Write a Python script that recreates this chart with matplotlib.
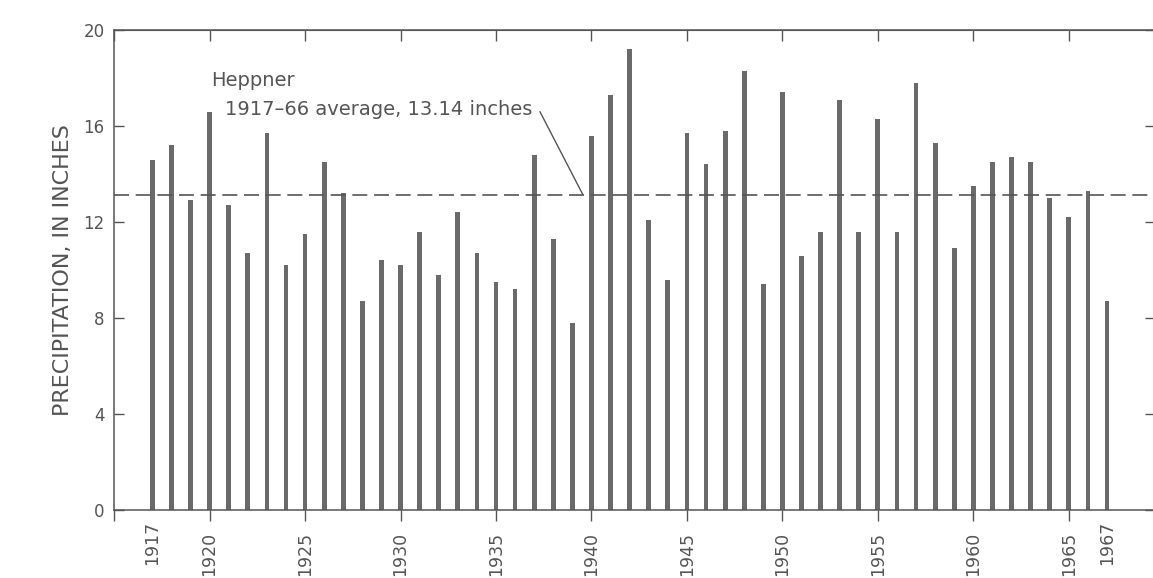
import matplotlib.pyplot as plt

years = list(range(1917, 1968))
precip = [14.6, 15.2, 12.9, 16.6, 12.7, 10.7, 15.7, 10.2, 11.5, 14.5,
          13.2, 8.7, 10.4, 10.2, 11.6, 9.8, 12.4, 10.7, 9.5, 9.2,
          14.8, 11.3, 7.8, 15.6, 17.3, 19.2, 12.1, 9.6, 15.7, 14.4,
          15.8, 18.3, 9.4, 17.4, 10.6, 11.6, 17.1, 11.6, 16.3, 11.6,
          17.8, 15.3, 10.9, 13.5, 14.5, 14.7, 14.5, 13.0, 12.2, 13.3,
          8.7]
average = 13.14
yticks = [0, 4, 8, 12, 16, 20]
major_years = list(range(1915, 1970, 5))
extra_years = [1917, 1967]

ink = "#555555"
bar_color = "#6a6a6a"

plt.rcParams['font.family'] = ['DejaVu Sans']

fig = plt.figure(figsize=(11.53, 5.78), dpi=100)
ax = fig.add_axes([0.099, 0.1176, 0.9025, 0.8304])

ax.bar(years, precip, width=0.25, color=bar_color, linewidth=0, zorder=2)
ax.axhline(average, color=ink, linestyle=(0, (9, 4)), linewidth=1.2, zorder=3)

ax.set_xlim(1915, 1969.5)
ax.set_ylim(0, 20)

# y axis: ticks inward on both sides
ax.set_yticks(yticks)
ax.tick_params(axis='y', direction='in', length=7, width=1, color=ink,
               labelsize=12, labelcolor=ink, pad=7, right=True)

# x axis: 5-year ticks pointing out below, labels rotated
ax.set_xticks(major_years)
ax.set_xticklabels(['' if y == 1915 else str(y) for y in major_years])
ax.set_xticks(extra_years, minor=True)
ax.set_xticklabels([str(y) for y in extra_years], minor=True)
ax.tick_params(axis='x', which='both', direction='out', labelrotation=90,
               labelsize=12.5, labelcolor=ink, color=ink, pad=8)
ax.tick_params(axis='x', which='major', length=8, width=1)
ax.tick_params(axis='x', which='minor', length=0)

top = ax.secondary_xaxis('top')
top.set_xticks(major_years)
top.tick_params(direction='in', length=8, width=1, color=ink, labeltop=False)
top.spines['top'].set_color(ink)

for side in ['left', 'bottom', 'top']:
    ax.spines[side].set_color(ink)
    ax.spines[side].set_linewidth(1.1)
ax.spines['right'].set_visible(False)

ax.set_ylabel("PRECIPITATION, IN INCHES", fontsize=16, color=ink, labelpad=7)

ax.text(1920.1, 17.9, "Heppner", fontsize=14, color=ink, va='center')
ax.text(1920.8, 16.67, "1917\u201366 average, 13.14 inches", fontsize=14,
        color=ink, va='center')
ax.annotate("", xy=(1939.55, average), xytext=(1937.3, 16.6),
            arrowprops=dict(arrowstyle='-', color=ink, linewidth=1,
                            shrinkA=0, shrinkB=0))

fig.savefig("out.png", dpi=100)
